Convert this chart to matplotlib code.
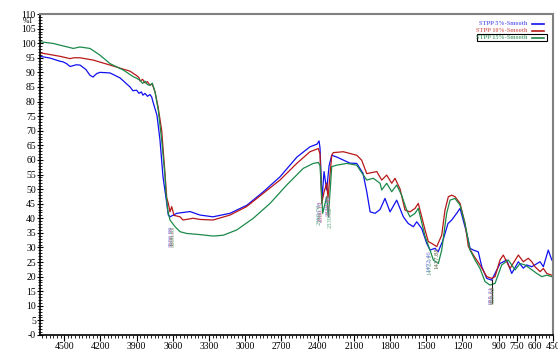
import numpy as np
import matplotlib
matplotlib.use('Agg')
import matplotlib.pyplot as plt
from matplotlib.ticker import MultipleLocator, FixedLocator

# FTIR 스펙트럼 (STPP 5%, 10%, 15%)
plt.rcParams['font.family'] = ['Liberation Serif', 'DejaVu Serif']

wn_5 = [4700, 4617, 4534, 4509, 4480, 4451, 4400, 4369, 4320, 4286, 4261, 4230, 4203, 4120,
        4037, 3954, 3930, 3900, 3880, 3860, 3847, 3830, 3810, 3789, 3775, 3764, 3731, 3706,
        3681, 3650, 3637, 3623, 3567, 3457, 3374, 3267, 3126, 2985, 2852, 2712, 2571, 2463,
        2405, 2388, 2380, 2364, 2347, 2325, 2305, 2283, 2242, 2190, 2132, 2076, 2024, 1993,
        1965, 1924, 1883, 1842, 1800, 1745, 1690, 1649, 1607, 1579, 1538, 1496, 1469, 1427,
        1402, 1361, 1320, 1289, 1248, 1220, 1165, 1137, 1110, 1069, 1040, 999, 958, 889,
        834, 792, 737, 696, 668, 626, 557, 530, 489, 460]
t_5 = [95.5, 94.9, 93.8, 93.6, 93.0, 92.0, 92.6, 92.5, 91.0, 89.0, 88.4, 89.6, 90.0, 89.8,
       88.1, 85.0, 83.7, 83.9, 82.8, 83.3, 82.2, 82.8, 81.8, 82.4, 81.6, 79.9, 75.3, 66.8,
       54.2, 45.2, 41.1, 40.5, 41.7, 42.3, 41.1, 40.5, 41.7, 44.5, 49.0, 54.2, 61.0, 64.5,
       65.4, 66.5, 64.0, 46.2, 56.0, 49.7, 58.0, 61.6, 61.0, 60.0, 58.9, 58.8, 55.4, 49.1,
       42.2, 41.7, 43.0, 46.8, 42.2, 46.2, 40.5, 38.2, 37.1, 38.8, 36.5, 31.4, 29.1, 29.7,
       28.5, 32.5, 38.2, 39.4, 41.7, 43.4, 34.9, 29.7, 29.1, 28.5, 23.4, 19.4, 18.8, 24.5,
       25.7, 21.1, 25.1, 22.9, 24.0, 23.4, 25.1, 23.4, 29.1, 25.7]

wn_10 = [4700, 4534, 4451, 4420, 4369, 4258, 4120, 3954, 3900, 3880, 3871, 3850, 3830, 3810,
         3789, 3770, 3747, 3722, 3692, 3664, 3650, 3637, 3623, 3609, 3590, 3540, 3515, 3432,
         3374, 3267, 3126, 2988, 2852, 2712, 2573, 2463, 2394, 2380, 2366, 2347, 2325, 2314,
         2283, 2270, 2187, 2076, 2035, 1993, 1910, 1869, 1828, 1786, 1759, 1717, 1676, 1635,
         1593, 1566, 1510, 1483, 1455, 1413, 1372, 1345, 1317, 1289, 1262, 1220, 1179, 1151,
         1110, 1055, 999, 958, 930, 889, 862, 806, 737, 696, 655, 626, 599, 557, 530, 502, 460]
t_10 = [96.7, 95.5, 94.7, 95.0, 95.0, 94.2, 92.5, 90.4, 88.9, 88.2, 87.0, 87.6, 86.4, 86.8,
        85.6, 86.0, 83.3, 78.2, 70.2, 55.0, 47.0, 45.1, 42.2, 44.0, 41.0, 40.5, 39.4, 40.0,
        39.6, 39.4, 41.1, 44.0, 48.5, 53.1, 58.8, 62.8, 63.9, 62.0, 45.1, 49.0, 52.0, 47.0,
        61.6, 62.5, 62.8, 61.6, 59.9, 55.3, 56.0, 53.1, 54.8, 52.0, 53.7, 50.0, 42.8, 42.2,
        43.4, 45.1, 36.0, 32.0, 31.4, 30.3, 34.2, 42.8, 47.4, 47.9, 47.4, 45.1, 38.2, 30.3,
        27.4, 24.0, 20.0, 19.4, 20.0, 25.7, 27.4, 22.8, 27.4, 25.1, 26.3, 25.1, 23.4, 21.7,
        22.8, 21.1, 20.5]

wn_15 = [4700, 4590, 4424, 4369, 4286, 4203, 4120, 4010, 3927, 3900, 3871, 3850, 3830, 3810,
         3789, 3770, 3747, 3720, 3692, 3664, 3659, 3642, 3623, 3581, 3540, 3485, 3374, 3264,
         3181, 3070, 2933, 2794, 2656, 2519, 2436, 2394, 2380, 2358, 2325, 2311, 2283, 2242,
         2159, 2076, 2049, 1993, 1939, 1883, 1869, 1828, 1786, 1745, 1704, 1662, 1635, 1593,
         1566, 1510, 1469, 1441, 1400, 1372, 1331, 1303, 1262, 1220, 1179, 1137, 1096, 1055,
         1013, 972, 930, 875, 820, 764, 723, 682, 640, 585, 543, 502, 460]
t_15 = [100.5, 99.9, 98.2, 98.7, 98.2, 95.9, 93.0, 90.8, 88.5, 88.0, 87.3, 86.2, 87.0, 85.8,
        85.6, 86.3, 83.3, 77.0, 66.8, 54.2, 49.7, 42.8, 39.4, 37.1, 35.4, 34.8, 34.4, 33.9,
        34.2, 36.0, 40.0, 45.1, 51.4, 57.1, 58.8, 59.1, 58.0, 41.7, 47.4, 40.5, 57.7, 58.2,
        58.8, 58.2, 56.5, 53.1, 53.7, 52.0, 49.7, 52.0, 49.1, 51.4, 47.9, 42.8, 40.5, 41.7,
        43.4, 33.8, 29.1, 25.7, 24.5, 29.1, 41.7, 46.2, 46.8, 44.5, 38.2, 29.1, 25.7, 22.8,
        18.3, 17.1, 17.7, 24.0, 25.7, 22.3, 24.5, 24.0, 22.8, 21.1, 20.0, 20.5, 20.0]

labels = ['STPP 5%-Smooth', 'STPP 10%-Smooth', 'STPP 15%-Smooth']
colors = ['#1010f0', '#b81818', '#1a8a4a']
text_colors = ['#6c6cf0', '#d87070', '#60a880']

xticks = [4500, 4200, 3900, 3600, 3300, 3000, 2700, 2400, 2100, 1800, 1500, 1200, 900, 750, 600, 450]

# 피크 라벨 (파수, 텍스트 상단 %T, 텍스트, 색)
peaks = [(3612, 37.5, '3606.89', 0), (3604, 37.5, '3606.21', 1), (3598, 37.5, '3606.55', 2),
         (2378, 46.0, '2360.78', 0), (2368, 46.0, '2360.12', 1), (2385, 45.0, '2360.70', 2),
         (2310, 48.0, '2339.62', 0), (2300, 48.0, '2339.45', 1), (2292, 44.0, '2339.02', 2),
         (1480, 29.0, '1472.46', 0), (1470, 28.0, '1472.11', 2), (1415, 30.0, '1417.88', 1),
         (1408, 30.0, '1417.65', 2), (958, 17.0, '955.21', 0), (950, 17.0, '955.64', 1),
         (944, 17.0, '955.02', 2)]

fig = plt.figure(figsize=(5.58, 3.51), dpi=100)
ax = fig.add_axes([40/558, 1-335/351, 513/558, 321/351])

for wn, t, c in zip([wn_5, wn_10, wn_15], [t_5, t_10, t_15], colors):
    ax.plot(wn, t, color=c, lw=0.9)

for x, y, s, k in peaks:
    ax.text(x, y, s, rotation=90, fontsize=4.8, color=text_colors[k], ha='center', va='top')
ax.plot([955, 955], [19, 11], color='#202020', lw=0.8)

ax.set_xlim(4700, 450)
ax.set_ylim(0, 110)

ax.xaxis.set_major_locator(FixedLocator(xticks))
ax.xaxis.set_minor_locator(MultipleLocator(30))
ax.yaxis.set_major_locator(MultipleLocator(5))
ax.yaxis.set_minor_locator(MultipleLocator(1))
ylabs = ['-0'] + [str(v) for v in range(5, 115, 5)]
ax.set_yticks(range(0, 115, 5))
ax.set_yticklabels(ylabs)
ax.tick_params(axis='both', which='major', labelsize=7, length=4, width=0.8, direction='inout', pad=1)
ax.tick_params(axis='both', which='minor', length=2.5, width=0.6, direction='inout')
ax.tick_params(axis='x', which='major', length=4, direction='out', pad=1)
ax.tick_params(axis='x', which='minor', length=2.5, direction='out')

for side in ['top', 'right']:
    ax.spines[side].set_color('#808080')
    ax.spines[side].set_linewidth(1.5)
for side in ['left', 'bottom']:
    ax.spines[side].set_color('black')
    ax.spines[side].set_linewidth(1.2)

ax.text(-0.012, 107.6, '%T', transform=ax.get_yaxis_transform(), fontsize=5.5,
        ha='right', va='center')

# 범례 (수동)
for i, (lab, c, tc) in enumerate(zip(labels, colors, text_colors)):
    yy = 0.970 - i * 0.022
    ax.text(0.950, yy, lab, transform=ax.transAxes, fontsize=4.5, color=tc,
            ha='right', va='center', fontweight='bold')
    ax.plot([0.960, 0.982], [yy, yy], transform=ax.transAxes, color=c, lw=1.2)
ax.add_patch(plt.Rectangle((0.852, 0.915), 0.137, 0.022, transform=ax.transAxes,
                           fill=False, edgecolor='black', lw=0.8))

fig.savefig('out.png', dpi=100)
